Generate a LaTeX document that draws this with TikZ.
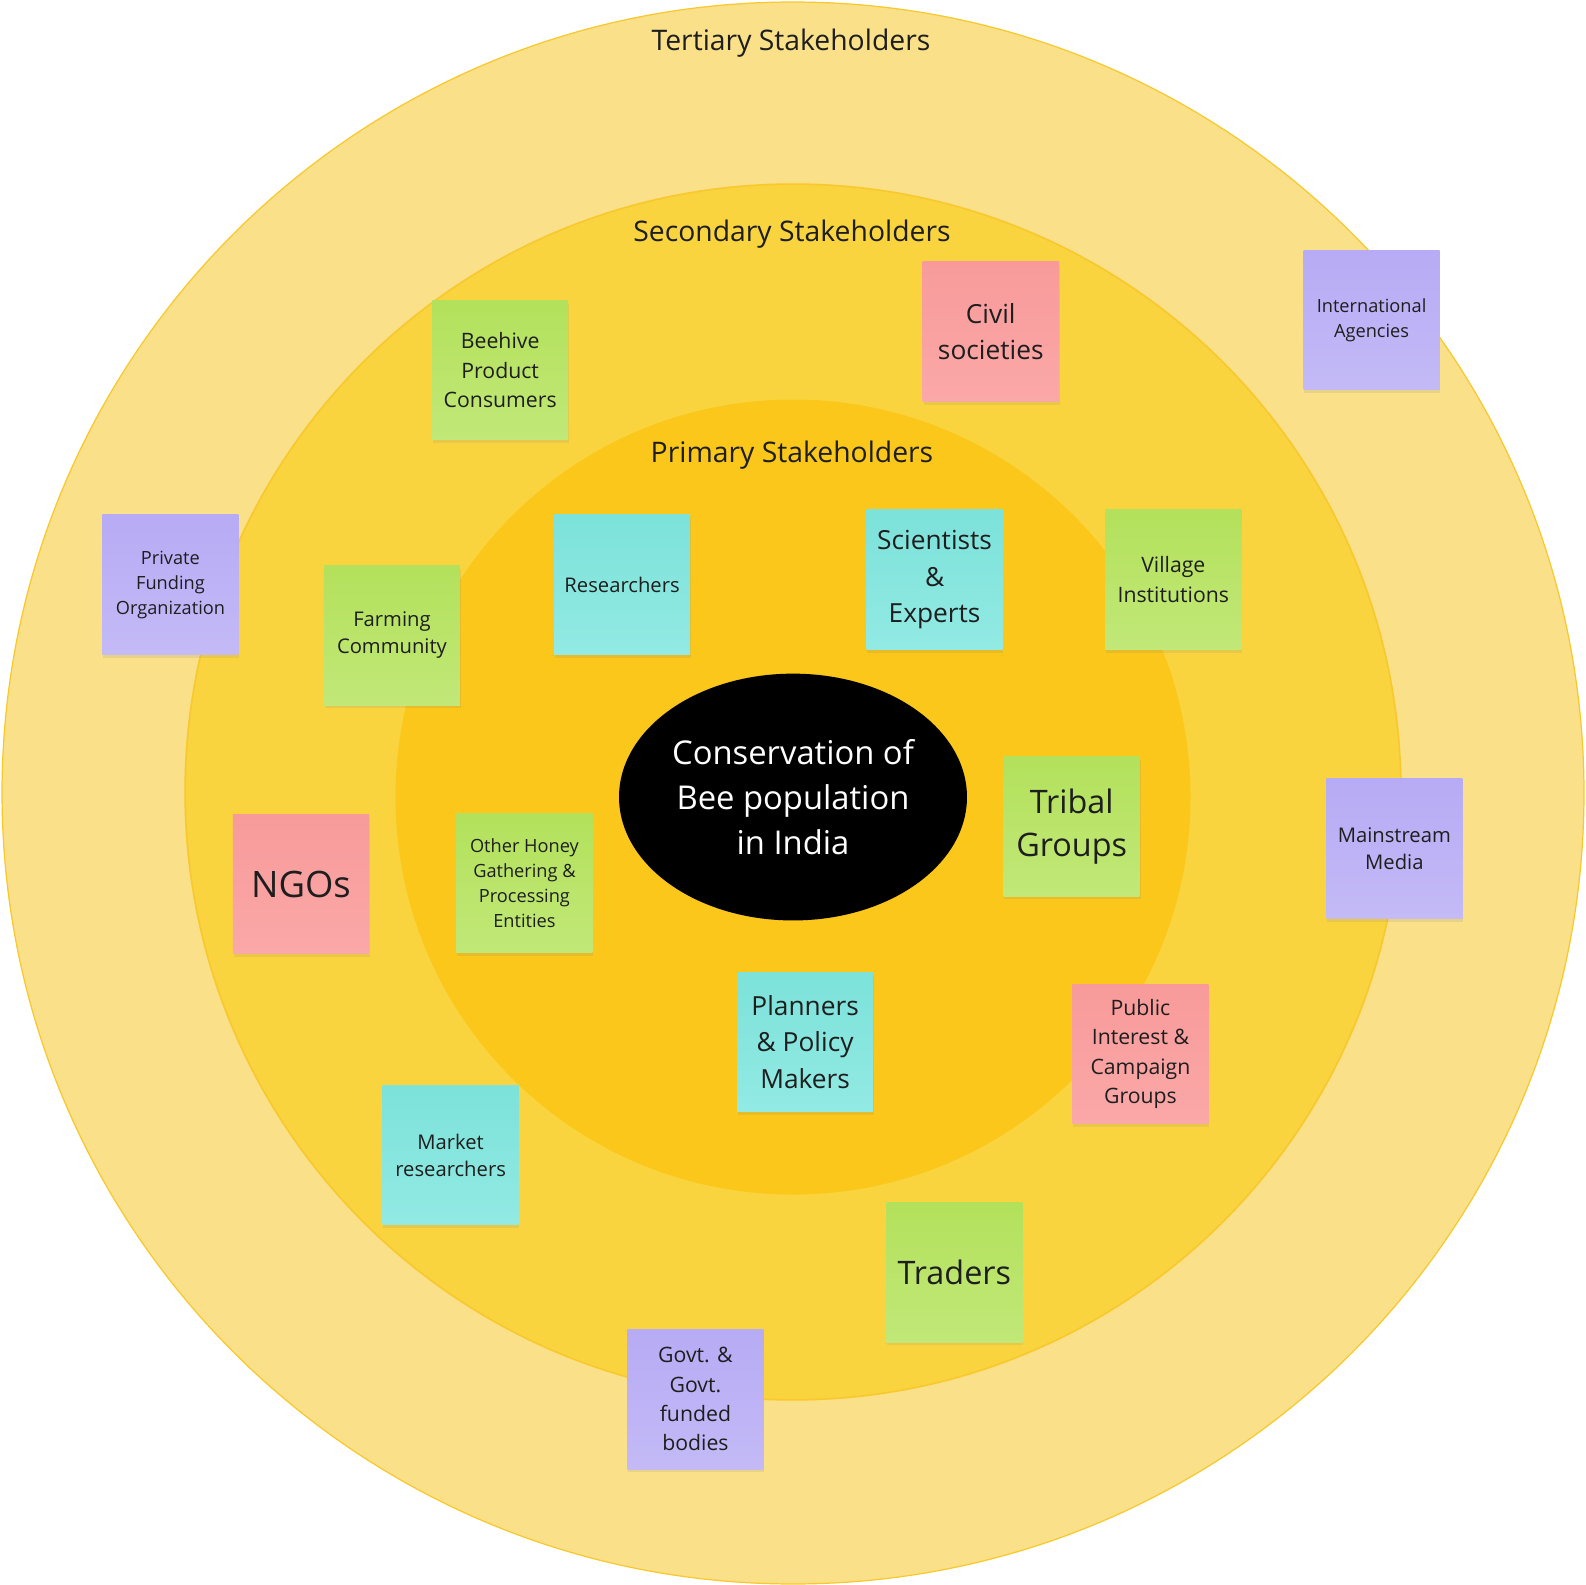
\documentclass[tikz,border=0pt]{standalone}
\usepackage{fontspec}
\setmainfont{Open Sans}
\usepackage{xcolor}
\usetikzlibrary{shapes.geometric, shadows}

\definecolor{tertfill}{HTML}{FAE088}
\definecolor{secfill}{HTML}{F9D43F}
\definecolor{primfill}{HTML}{FAC71A}
\definecolor{ringline}{HTML}{F8C82C}
\definecolor{notetext}{HTML}{1E1E1E}
\definecolor{purpletop}{HTML}{B7ABF5}
\definecolor{purplebot}{HTML}{C3BAF6}
\definecolor{greentop}{HTML}{B3E15B}
\definecolor{greenbot}{HTML}{C1E878}
\definecolor{cyantop}{HTML}{7CE2DA}
\definecolor{cyanbot}{HTML}{92EAE3}
\definecolor{pinktop}{HTML}{F89A9A}
\definecolor{pinkbot}{HTML}{FBA8A8}

\begin{document}
\begin{tikzpicture}[
    x=0.5pt, y=-0.5pt,
    ring/.style={circle, inner sep=0pt, minimum size=#1},
    ringlabel/.style={anchor=base, text=notetext, font=\fontsize{14}{19}\selectfont},
    note/.style={rectangle, minimum width=67.25pt, minimum height=69pt, inner sep=2pt, align=center, text=notetext,
        drop shadow={shadow xshift=0.4pt, shadow yshift=-1.6pt, opacity=0.14}},
    purplenote/.style={note, top color=purpletop, bottom color=purplebot},
    greennote/.style={note, top color=greentop, bottom color=greenbot},
    cyannote/.style={note, top color=cyantop, bottom color=cyanbot},
    pinknote/.style={note, top color=pinktop, bottom color=pinkbot},
    txtxs/.style={font=\fontsize{9}{12.3}\selectfont},
    txts/.style={font=\fontsize{10}{13.5}\selectfont},
    txtm/.style={font=\fontsize{10.5}{14.5}\selectfont},
    txtl/.style={font=\fontsize{13}{18}\selectfont},
    txtxl/.style={font=\fontsize{16}{21.5}\selectfont}
]
\fill[white] (0,0) rectangle (1568,1567);
\useasboundingbox (0,0) rectangle (1568,1567);

% stakeholder rings
\node[ring=782pt, fill=tertfill, draw=ringline, line width=0.6pt] (tertiary) at (784,784) {};
\node[ring=601pt, fill=secfill, draw=ringline, line width=0.8pt] (secondary) at (784,783) {};
\node[ring=393pt, fill=primfill] (primary) at (784,788) {};

\node[ringlabel] (tertlabel) at (782,50) {Tertiary Stakeholders};
\node[ringlabel] (seclabel) at (783,239) {Secondary Stakeholders};
\node[ringlabel] (primlabel) at (783,457) {Primary Stakeholders};

% centre
\node[ellipse, fill=black, inner sep=0pt, minimum width=172pt, minimum height=122pt, align=center, text=white,
    font=\fontsize{16.2}{22.2}\selectfont] (goal) at (784,788) {Conservation of\\Bee population\\in India};

% tertiary
\node[purplenote, txtxs] (intl) at (1356,316.5) {International\\Agencies};
\node[purplenote, txtxs] (private) at (168.5,578) {Private\\Funding\\Organization};
\node[purplenote, txts] (media) at (1378.5,839) {Mainstream\\Media};
\node[purplenote, txtm] (govt) at (687.5,1383.5) {Govt. \&\\Govt.\\funded\\bodies};

% secondary
\node[pinknote, txtl] (civil) at (979.5,328) {Civil\\societies};
\node[greennote, txtm] (beehive) at (494.5,366) {Beehive\\Product\\Consumers};
\node[greennote, txtm] (village) at (1160,573) {Village\\Institutions};
\node[greennote, txts] (farming) at (387.5,628) {Farming\\Community};
\node[pinknote, font=\fontsize{18}{24}\selectfont] (ngos) at (297.5,874) {NGOs};
\node[pinknote, txtm] (public) at (1127.5,1042) {Public\\Interest \&\\Campaign\\Groups};
\node[cyannote, txts] (market) at (445.5,1142) {Market\\researchers};
\node[greennote, txtxl] (traders) at (943.5,1258) {Traders};

% primary
\node[cyannote, txts] (researchers) at (615,578) {Researchers};
\node[cyannote, txtl] (scientists) at (924,573) {Scientists\\\&\\Experts};
\node[greennote, txtxl] (tribal) at (1059.5,817) {Tribal\\Groups};
\node[greennote, txtxs] (honey) at (518.5,873) {Other Honey\\Gathering \&\\Processing\\Entities};
\node[cyannote, txtl] (planners) at (796,1030) {Planners\\\& Policy\\Makers};
\end{tikzpicture}
\end{document}
